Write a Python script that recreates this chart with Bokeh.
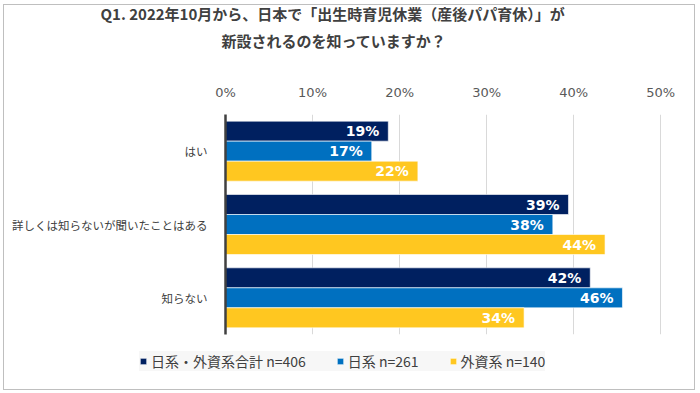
from bokeh.plotting import figure
from bokeh.layouts import column
from bokeh.models import (FactorRange, Range1d, FixedTicker, Title, Legend, LegendItem,
                          ColumnDataSource)
from bokeh.transform import dodge
from bokeh.core.properties import value
from bokeh.embed import file_html
from bokeh.resources import INLINE

# ---- data ----
categories = ["はい", "詳しくは知らないが聞いたことはある", "知らない"]
series_names = ["日系・外資系合計 n=406", "日系 n=261", "外資系 n=140"]
total = [18.7, 39.4, 41.9]
japan = [16.8, 37.6, 45.6]
foreign = [22.1, 43.6, 34.3]
x_ticks = [0, 10, 20, 30, 40, 50]
title_lines = ["Q1. 2022年10月から、日本で「出生時育児休業（産後パパ育休）」が",
               "新設されるのを知っていますか？"]

colors = ["#002060", "#0070C0", "#FFC720"]
JP = "Noto Sans CJK JP"
TXT = "#404040"

# ---- geometry (pixels) ----
W = 690
H_T, H_M, H_L = 66, 267, 51
left, right_b, top, bottom = 221, 32, 43, 4
frame_h = H_M - top - bottom
x_end = 50.2
ppu_y = frame_h / 3.0
bar_h = 20 / ppu_y

src = ColumnDataSource(dict(cat=categories, total=total, japan=japan, foreign=foreign,
                            total_lbl=[f"{v:.0f}%" for v in total],
                            japan_lbl=[f"{v:.0f}%" for v in japan],
                            foreign_lbl=[f"{v:.0f}%" for v in foreign]))
keys = ["total", "japan", "foreign"]

# ---- title strip (titles live in the side panel, so they are not clipped) ----
pt = figure(width=W, height=H_T, output_backend="svg", toolbar_location=None,
            x_range=Range1d(0, 1), y_range=Range1d(0, 1),
            x_axis_type=None, y_axis_type=None, min_border=0,
            min_border_left=left, min_border_right=right_b)
pt.outline_line_color = None
pt.grid.visible = False
pt.border_fill_alpha = 0
pt.background_fill_alpha = 0
pt.styles = {"transform": "translateY(-7px)"}
for txt, off in [(title_lines[1], -4), (title_lines[0], -125)]:
    pt.add_layout(Title(text=txt, align="left", offset=off, standoff=4,
                        text_font=JP, text_font_style="bold", text_font_size="15px",
                        text_color=TXT), "above")

# ---- main chart ----
factors = list(reversed(categories))
p = figure(width=W, height=H_M, output_backend="svg", toolbar_location=None,
           x_range=Range1d(0, x_end), y_range=FactorRange(factors=factors, range_padding=0),
           x_axis_location="above", min_border_left=left, min_border_right=right_b,
           min_border_top=top, min_border_bottom=bottom)
p.outline_line_color = None

offsets = [bar_h, 0.0, -bar_h]
for key, off, col in zip(keys, offsets, colors):
    p.hbar(y=dodge("cat", off, range=p.y_range), right=key, left=0, height=bar_h,
           source=src, fill_color=col, line_color="white", line_alpha=0.6, line_width=1)
    p.text(x=key, y=dodge("cat", off, range=p.y_range), text=key + "_lbl", source=src,
           text_align="right", text_baseline="middle", x_offset=-9,
           text_color="white", text_font=value("DejaVu Sans"), text_font_style="bold",
           text_font_size="14px")

p.xaxis.ticker = FixedTicker(ticks=x_ticks)
p.xaxis.major_label_overrides = {t: f"{t}%" for t in x_ticks}
p.xaxis.axis_line_color = None
p.xaxis.major_tick_line_color = None
p.xaxis.minor_tick_line_color = None
p.xaxis.major_label_text_font = "DejaVu Sans"
p.xaxis.major_label_text_font_size = "13px"
p.xaxis.major_label_text_color = "#595959"
p.xaxis.major_label_standoff = 9

p.yaxis.axis_line_color = TXT
p.yaxis.axis_line_width = 2.5
p.yaxis.major_tick_line_color = None
p.yaxis.minor_tick_line_color = None
p.yaxis.major_label_text_font = JP
p.yaxis.major_label_text_font_size = "11.5px"
p.yaxis.major_label_text_color = TXT
p.yaxis.major_label_standoff = 12

p.xgrid.grid_line_color = "#d9d9d9"
p.ygrid.grid_line_color = None

# ---- legend strip: legend inside the strip's frame; strip shifted left visually ----
pl = figure(width=W, height=H_L, output_backend="svg", toolbar_location=None,
            x_range=Range1d(-2, -1), y_range=Range1d(0, 1),
            x_axis_type=None, y_axis_type=None, min_border=0,
            min_border_left=left, min_border_right=right_b)
pl.outline_line_color = None
pl.grid.visible = False
pl.border_fill_alpha = 0
pl.background_fill_alpha = 0
pl.styles = {"transform": "translateX(-86px)"}
items = []
for name, key, col in zip(series_names, keys, colors):
    # legend proxies: same data, placed entirely outside this strip's view
    r = pl.hbar(y=-10, right=key, left=0, height=0.5, source=src,
                fill_color=col, line_color="white", line_alpha=0.6)
    items.append(LegendItem(label=name, renderers=[r]))
legend = Legend(items=items, orientation="horizontal", location=(0, 18),
                glyph_width=8, glyph_height=8, label_standoff=4, spacing=30,
                padding=5, margin=0, label_height=17,
                label_text_font=JP, label_text_font_size="14px", label_text_color=TXT,
                background_fill_color="#f7f7f7", background_fill_alpha=1.0,
                border_line_color=None)
pl.add_layout(legend)

layout = column(pt, p, pl, spacing=0, margin=(4, 0, 0, 3),
                styles={"border": "1px solid #bfbfbf"})

open("out.html", "w").write(file_html(layout, INLINE))
